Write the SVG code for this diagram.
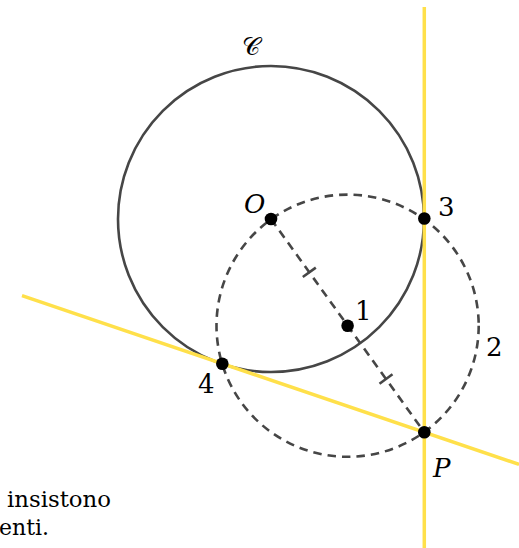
<svg xmlns="http://www.w3.org/2000/svg" width="519" height="548" viewBox="0 0 519 548">
<style>
.gray{fill:none;stroke:#464646;stroke-width:2.6}
.dash{fill:none;stroke:#464646;stroke-width:2.6;stroke-dasharray:8.5 6}
.yel{fill:none;stroke:#FFE04A;stroke-width:3.5}
.dot{fill:#000}
text{font-family:'DejaVu Serif',serif;font-size:26px;fill:#000}
.it{font-style:italic}
.scr{font-size:25px}
.cap{font-size:23px}
</style>
<rect width="519" height="548" fill="#fff"/>
<g id="circle-C">
<circle class="gray" cx="271" cy="219" r="153"/>
<text class="scr" x="242" y="55">𝒞</text>
</g>
<g id="tangents">
<line class="yel" x1="424.3" y1="7" x2="424.3" y2="548"/>
<line class="yel" x1="22" y1="295.7" x2="519" y2="464.4"/>
</g>
<g id="circle-2">
<circle class="dash" cx="347.6" cy="325.7" r="131.1"/>
<text x="486" y="356">2</text>
</g>
<g id="connectors">
<line class="dash" x1="271" y1="219" x2="424.3" y2="432.3"/>
<line class="gray" x1="302.8" y1="277" x2="315.8" y2="267.6"/>
<line class="gray" x1="379.5" y1="383.7" x2="392.5" y2="374.3"/>
</g>
<g id="node-O">
<circle class="dot" cx="271" cy="219" r="6.3"/>
<text class="it" x="244" y="213">O</text>
</g>
<g id="node-1">
<circle class="dot" cx="347.6" cy="325.7" r="6.3"/>
<text x="355" y="320">1</text>
</g>
<g id="node-3">
<circle class="dot" cx="424.3" cy="218.5" r="6.3"/>
<text x="438" y="216">3</text>
</g>
<g id="node-4">
<circle class="dot" cx="222.3" cy="363.7" r="6.3"/>
<text x="198" y="393">4</text>
</g>
<g id="node-P">
<circle class="dot" cx="424.3" cy="432.3" r="6.3"/>
<text class="it" x="433" y="477">P</text>
</g>
<g id="caption">
<text class="cap" x="7" y="507" textLength="104" lengthAdjust="spacingAndGlyphs">insistono</text>
<text class="cap" x="-1" y="535" textLength="50" lengthAdjust="spacingAndGlyphs">enti.</text>
</g>
</svg>
